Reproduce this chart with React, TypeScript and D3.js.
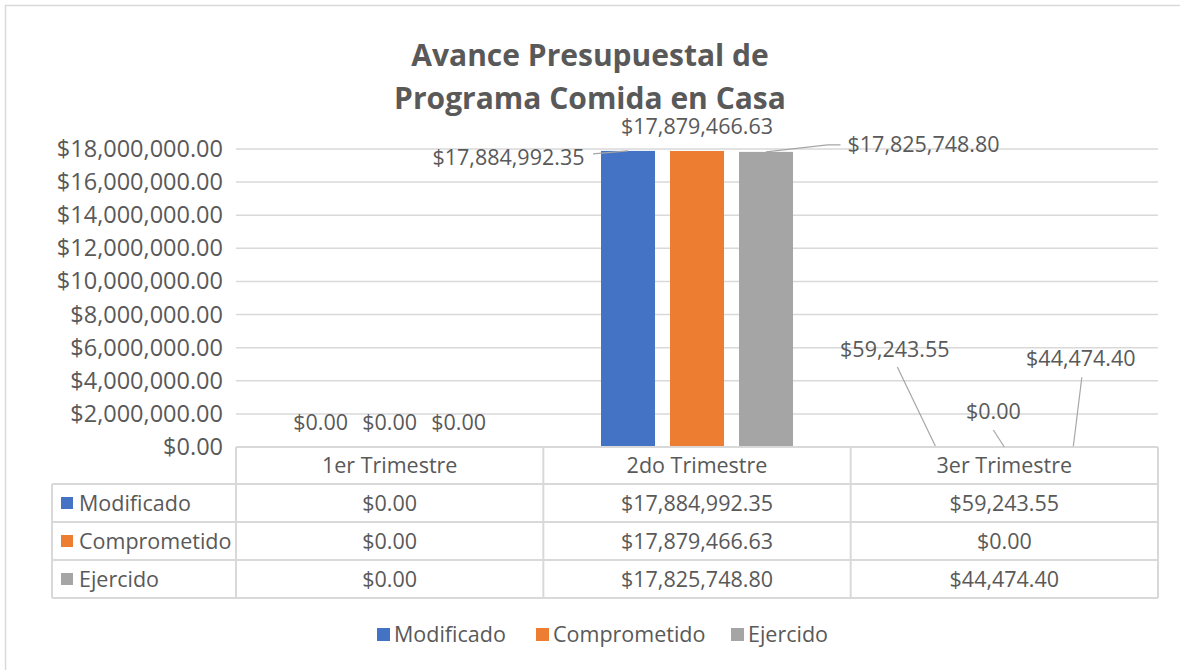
import React from "react";
import * as d3 from "d3";

const categories = ["1er Trimestre", "2do Trimestre", "3er Trimestre"];
const seriesNames = ["Modificado", "Comprometido", "Ejercido"];
const modificado = [0, 17884992.35, 59243.55];
const comprometido = [0, 17879466.63, 0];
const ejercido = [0, 17825748.8, 44474.4];
const yTicks = [0, 2000000, 4000000, 6000000, 8000000, 10000000, 12000000, 14000000, 16000000, 18000000];
const titleLines = ["Avance Presupuestal de", "Programa Comida en Casa"];

const seriesValues = [modificado, comprometido, ejercido];
const colors = ["#4472C4", "#ED7D31", "#A5A5A5"];

// label placement offsets (layout): [seriesIndex][categoryIndex]
type Place = { dx: number; dy: number; anchor: string; leader?: [number, number][] } | null;
const placements: Place[][] = [
  [null, { dx: -43.5, dy: 14, anchor: "end", leader: [[-35, 3]] }, { dx: -40.5, dy: -89, anchor: "middle", leader: [[-38, -79]] }],
  [null, null, { dx: -11, dy: -28, anchor: "middle", leader: [[-11, -17]] }],
  [null, { dx: 81.5, dy: 0, anchor: "start", leader: [[61.5, -7], [74.5, -7]] }, { dx: 7.5, dy: -80, anchor: "middle", leader: [[8.5, -69]] }],
];

const FONT = "'Open Sans', sans-serif";
const TXT = "#595959";
const GRID = "#d9d9d9";
const fmt = (v: number) => "$" + d3.format(",.2f")(v);

export default function App() {
  const W = 1180, H = 670;
  const left = 236, right = 1158, top = 149, bottom = 447;
  const tableLeft = 52;
  const rowYs = [447, 484, 522, 560, 598];
  const fs = 21.5;
  const fsAxis = 23.5;

  const y = d3.scaleLinear().domain([0, 18000000]).range([bottom, top]);
  const x0 = d3.scaleBand<string>().domain(categories).range([left, right]).padding(0);
  const bw = x0.bandwidth();
  const x1 = d3.scaleBand<string>().domain(seriesNames).range([bw / 2 - 96, bw / 2 + 96]).paddingInner(15 / 69).paddingOuter(0);

  return (
    <svg width={W} height={H} style={{ position: "absolute", left: 0, top: 0, background: "#fff" }} fontFamily={FONT}>
      <rect x={0} y={0} width={W} height={H} fill="#fff" />
      <rect x={5.5} y={5.5} width={W + 50} height={H + 50} fill="none" stroke={GRID} strokeWidth={1.5} />
      {titleLines.map((t, i) => (
        <text key={t} x={(left + right) / 2 - 107} y={66 + i * 43} textAnchor="middle" fontSize={30} fontWeight={700} fill={TXT}>{t}</text>
      ))}
      {yTicks.map((t) => (
        <g key={t}>
          {t > 0 && <line x1={left} x2={right} y1={y(t)} y2={y(t)} stroke={GRID} strokeWidth={1.5} />}
          <text x={223} y={y(t) + 8} textAnchor="end" fontSize={fsAxis} fill={TXT}>{fmt(t)}</text>
        </g>
      ))}
      {seriesNames.map((s, si) =>
        categories.map((c, ci) => {
          const v = seriesValues[si][ci];
          const bx = (x0(c) as number) + (x1(s) as number);
          const by = y(v);
          return (
            <rect key={s + c} x={bx} y={by} width={x1.bandwidth()} height={Math.max(0, bottom - by)} fill={colors[si]} />
          );
        })
      )}
      {/* table */}
      <g stroke={GRID} strokeWidth={2} fill="none">
        <line x1={left} x2={right} y1={rowYs[0]} y2={rowYs[0]} />
        {rowYs.slice(1).map((ry) => (
          <line key={ry} x1={tableLeft} x2={right} y1={ry} y2={ry} />
        ))}
        <line x1={tableLeft} x2={tableLeft} y1={rowYs[1]} y2={rowYs[4]} />
        {categories.map((c) => (
          <line key={c} x1={x0(c) as number} x2={x0(c) as number} y1={rowYs[0]} y2={rowYs[4]} />
        ))}
        <line x1={right} x2={right} y1={rowYs[0]} y2={rowYs[4]} />
      </g>
      {categories.map((c) => (
        <text key={c} x={(x0(c) as number) + bw / 2} y={(rowYs[0] + rowYs[1]) / 2 + 7.5} textAnchor="middle" fontSize={fs} fill={TXT}>{c}</text>
      ))}
      {seriesNames.map((s, si) => {
        const cy = (rowYs[si + 1] + rowYs[si + 2]) / 2;
        return (
          <g key={s}>
            <rect x={61} y={cy - 6} width={12} height={12} fill={colors[si]} />
            <text x={79} y={cy + 7.5} fontSize={fs} fill={TXT}>{s}</text>
            {categories.map((c, ci) => (
              <text key={c} x={(x0(c) as number) + bw / 2} y={cy + 7.5} textAnchor="middle" fontSize={fs} fill={TXT}>{fmt(seriesValues[si][ci])}</text>
            ))}
          </g>
        );
      })}
      {/* data labels */}
      {seriesNames.map((s, si) =>
        categories.map((c, ci) => {
          const v = seriesValues[si][ci];
          const cx = (x0(c) as number) + (x1(s) as number) + x1.bandwidth() / 2;
          const ty = y(v);
          const p = placements[si][ci];
          if (!p) {
            return (
              <text key={s + c} x={cx} y={ty - 17} textAnchor="middle" fontSize={fs} fill={TXT}>{fmt(v)}</text>
            );
          }
          const pts: [number, number][] = [[cx, ty], ...(p.leader || []).map(([a, b]) => [cx + a, ty + b] as [number, number])];
          return (
            <g key={s + c}>
              <path d={d3.line()(pts) || ""} fill="none" stroke="#a6a6a6" strokeWidth={1.2} />
              <text x={cx + p.dx} y={ty + p.dy} textAnchor={p.anchor as any} fontSize={fs} fill={TXT}>{fmt(v)}</text>
            </g>
          );
        })
      )}
      {/* legend */}
      {(() => {
        const xs = [377, 536, 731];
        return seriesNames.map((s, si) => (
          <g key={s}>
            <rect x={xs[si]} y={628} width={13} height={13} fill={colors[si]} />
            <text x={xs[si] + 17} y={642} fontSize={fs} fill={TXT}>{s}</text>
          </g>
        ));
      })()}
    </svg>
  );
}
